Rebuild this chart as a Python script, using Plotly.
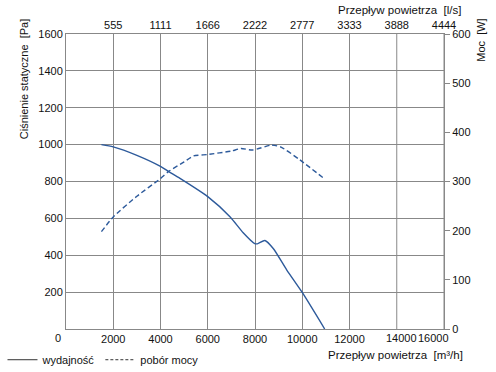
import plotly.graph_objects as go

# Data
flow_perf = [1500, 2000, 3000, 4000, 4330, 4825, 6000, 6940, 7500, 7970, 8100, 8420, 8780, 9340, 10000, 10950]
pressure = [1000, 988, 942, 882, 855, 817, 718, 609, 522, 465, 462, 480, 435, 321, 198, 0]

flow_power = [1500, 2000, 3000, 4000, 4330, 5000, 5400, 6000, 7000, 7400, 7900, 8700, 9100, 9900, 10950]
power = [198, 228, 270, 306, 320, 340, 352, 355, 362, 367, 364, 374, 370, 344, 305]

x_ticks = [2000, 4000, 6000, 8000, 10000, 12000, 14000, 16000]
bottom_tick_labels = ["2000", "4000", "6000", "8000", "10000", "12000", "14000", "16000"]
top_tick_labels = ["555", "1111", "1666", "2222", "2777", "3333", "3888", "4444"]
y_ticks = [200, 400, 600, 800, 1000, 1200, 1400, 1600]
y2_ticks = [0, 100, 200, 300, 400, 500, 600]

LINE = "#2d5a9b"
GRID = "#888888"
FONT = "Liberation Sans, Arial, sans-serif"

fig = go.Figure()
fig.add_trace(go.Scatter(x=flow_perf, y=pressure, mode="lines",
                         line=dict(color=LINE, width=1.4, shape="spline", smoothing=0.6),
                         showlegend=False, xaxis="x", yaxis="y"))
fig.add_trace(go.Scatter(x=flow_power, y=power, mode="lines",
                         line=dict(color=LINE, width=1.4, dash="5px,3px", shape="spline", smoothing=0.6),
                         showlegend=False, xaxis="x", yaxis="y2"))
# legend entries (dark grey samples as in reference)
fig.add_trace(go.Scatter(x=[None], y=[None], mode="lines", name="wydajność",
                         line=dict(color="#333333", width=1)))
fig.add_trace(go.Scatter(x=[None], y=[None], mode="lines", name="pobór mocy",
                         line=dict(color="#333333", width=1, dash="3px,2px")))
# dummy trace on top axis so it is drawn
fig.add_trace(go.Scatter(x=[None], y=[None], xaxis="x2", yaxis="y", showlegend=False))

fig.update_layout(
    width=496, height=372,
    margin=dict(l=66, r=52, t=34, b=43, autoexpand=False),
    paper_bgcolor="white", plot_bgcolor="white",
    font=dict(family=FONT, size=11, color="#111111"),
    xaxis=dict(range=[0, 16000], tickvals=x_ticks[:-2], ticktext=bottom_tick_labels[:-2], tickangle=0,
               showgrid=True, gridcolor=GRID, gridwidth=1,
               showline=True, linecolor=GRID, linewidth=1, zeroline=False,
               ticks="", automargin=False, tickfont=dict(size=11)),
    xaxis2=dict(range=[0, 16000], overlaying="x", side="top", tickvals=x_ticks, tickangle=0,
                ticktext=top_tick_labels, showgrid=False, showline=True, linecolor=GRID,
                zeroline=False, ticks="", automargin=False, tickfont=dict(size=11)),
    yaxis=dict(range=[0, 1600], tickvals=y_ticks, showgrid=True, gridcolor=GRID, gridwidth=1,
               showline=True, linecolor=GRID, linewidth=1, zeroline=False, ticks="",
               automargin=False, tickfont=dict(size=11)),
    yaxis2=dict(range=[0, 600], tickvals=y2_ticks, overlaying="y", side="right", showgrid=False,
                showline=True, linecolor=GRID, linewidth=1, zeroline=False, ticks="outside",
                ticklen=5, tickcolor=GRID, automargin=False, tickfont=dict(size=11)),
    legend=dict(orientation="h", x=-0.168, y=-0.055, xanchor="left", yanchor="top",
                font=dict(size=11), itemwidth=30, tracegroupgap=0, bgcolor="rgba(0,0,0,0)"),
)

# gridlines for the last two ticks (labels are placed slightly shifted, as in reference)
for xv, lab, sh in zip(x_ticks[-2:], bottom_tick_labels[-2:], [5, -11]):
    fig.add_annotation(text=lab, x=xv, y=0, xref="x", yref="y", xanchor="center", yanchor="top",
                       showarrow=False, xshift=sh, yshift=-1, font=dict(size=11))
    fig.add_shape(type="line", x0=xv, x1=xv, y0=0, y1=1600, xref="x", yref="y",
                  line=dict(color=GRID, width=1), layer="below")

fig.add_annotation(text="0", x=0, y=0, xref="x", yref="y", xanchor="right", yanchor="top",
                   showarrow=False, xshift=-3, yshift=-1, font=dict(size=11))
fig.add_annotation(text="Przepływ powietrza  [m³/h]", xref="paper", yref="paper",
                   x=1.056, y=-0.087, xanchor="right", yanchor="middle", showarrow=False,
                   font=dict(size=11.5))
fig.add_annotation(text="Przepływ powietrza  [l/s]", xref="paper", yref="paper",
                   x=1.051, y=1.080, xanchor="right", yanchor="middle", showarrow=False,
                   font=dict(size=11.5))
fig.add_annotation(text="Ciśnienie statyczne  [Pa]", xref="paper", yref="paper",
                   x=-0.111, y=1.057, xanchor="center", yanchor="top", textangle=-90,
                   showarrow=False, font=dict(size=11))
fig.add_annotation(text="Moc  [W]", xref="paper", yref="paper",
                   x=1.098, y=1.057, xanchor="center", yanchor="top", textangle=-90,
                   showarrow=False, font=dict(size=11))

fig.write_html("out.html", config={"displayModeBar": False},
               post_script="document.body.style.margin='0';document.body.style.overflow='hidden';")
